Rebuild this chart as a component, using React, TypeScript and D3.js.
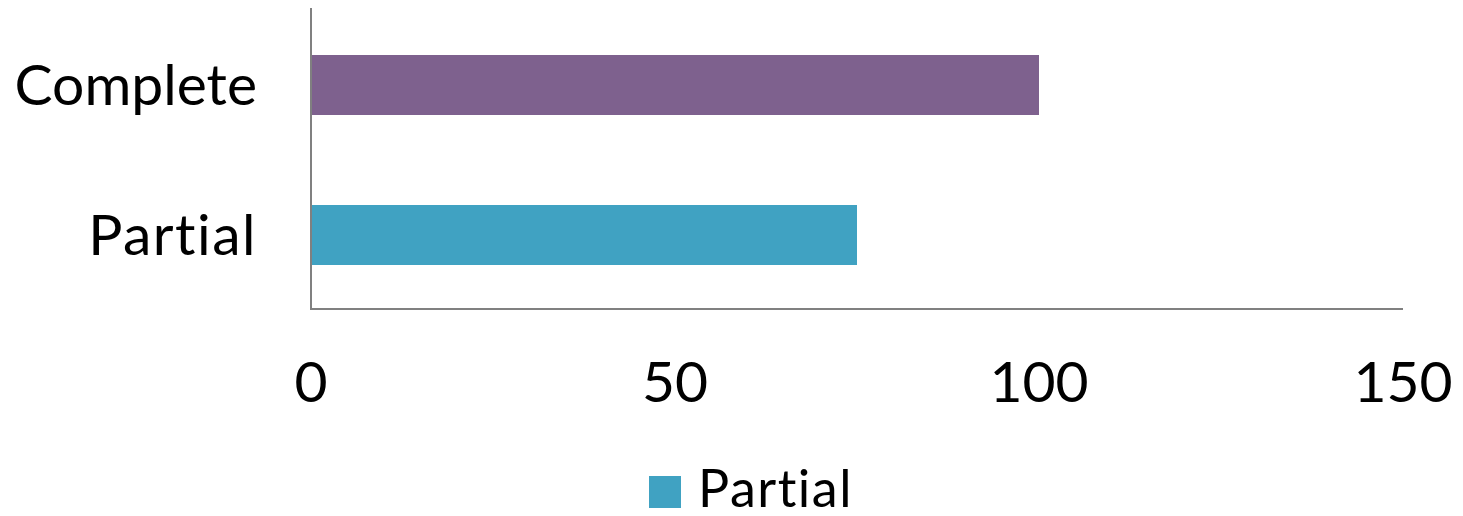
import React from "react";
import * as d3 from "d3";

const categories = ["Complete", "Partial"];
const values = [100, 75];
const xTicks = [0, 50, 100, 150];
const barColors = ["#7E618E", "#40A2C2"];
const legendLabels = ["Partial"];

const W = 1463;
const H = 516;
const FONT = "Lato, 'Open Sans', sans-serif";

export default function App() {
  const x = d3.scaleLinear().domain([0, 150]).range([311, 1403]);
  const y = d3.scaleBand<string>().domain(categories).range([10, 310]).paddingInner(0.6).paddingOuter(0.3);
  const axisY = 309;

  return (
    <svg width={W} height={H} style={{ position: "absolute", left: 0, top: 0, background: "#fff" }}>
      {categories.map((c, i) => (
        <rect
          key={c}
          x={x(0)}
          y={y(c)!}
          width={x(values[i]) - x(0)}
          height={y.bandwidth()}
          fill={barColors[i]}
        />
      ))}
      {/* axes */}
      <line x1={x(0)} x2={x(0)} y1={8} y2={axisY + 1} stroke="#808080" strokeWidth={2} />
      <line x1={x(0) - 1} x2={x(150)} y1={axisY} y2={axisY} stroke="#808080" strokeWidth={2} />
      {/* category labels */}
      {categories.map((c) => (
        <text
          key={c}
          x={257}
          y={y(c)! + y.bandwidth() / 2 + 20}
          textAnchor="end"
          fontFamily={FONT}
          fontSize={57}
          letterSpacing={c === "Partial" ? 1.5 : 0}
          fill="#000"
        >
          {c}
        </text>
      ))}
      {/* tick labels */}
      {xTicks.map((t) => (
        <text
          key={t}
          x={x(t)}
          y={402}
          textAnchor="middle"
          fontFamily={FONT}
          fontSize={57}
          fill="#000"
        >
          {t}
        </text>
      ))}
      {/* legend */}
      {legendLabels.map((l) => (
        <g key={l}>
          <rect x={649} y={476} width={32} height={32} fill={barColors[1]} />
          <text x={698} y={507} fontFamily={FONT} fontSize={52} letterSpacing={1.5} fill="#000">
            {l}
          </text>
        </g>
      ))}
    </svg>
  );
}
